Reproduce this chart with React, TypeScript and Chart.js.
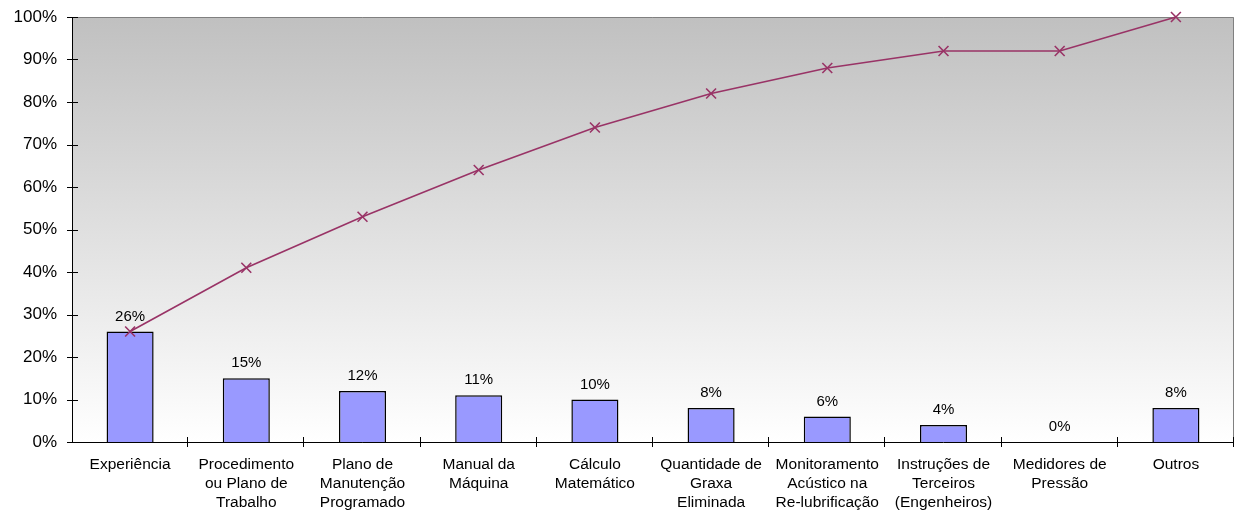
import React, { useEffect, useRef } from "react";
import { Chart, registerables } from "chart.js";

Chart.register(...registerables);

const categories: (string | string[])[] = [
  "Experiência",
  ["Procedimento", "ou Plano de", "Trabalho"],
  ["Plano de", "Manutenção", "Programado"],
  ["Manual da", "Máquina"],
  ["Cálculo", "Matemático"],
  ["Quantidade de", "Graxa", "Eliminada"],
  ["Monitoramento", "Acústico na", "Re-lubrificação"],
  ["Instruções de", "Terceiros", "(Engenheiros)"],
  ["Medidores de", "Pressão"],
  ["Outros"],
];
const shareValues = [26, 15, 12, 11, 10, 8, 6, 4, 0, 8];
const cumulativeValues = [26, 41, 53, 64, 74, 82, 88, 92, 92, 100];
const yTicks = [0, 10, 20, 30, 40, 50, 60, 70, 80, 90, 100];

const FONT = "'Liberation Sans', Arial, sans-serif";

const framePlugin = {
  id: "frame",
  beforeDatasetsDraw(chart: any) {
    const { ctx, chartArea } = chart;
    const { left, right, top, bottom } = chartArea;
    ctx.save();
    const g = ctx.createLinearGradient(0, top, 0, bottom);
    g.addColorStop(0, "#c0c0c0");
    g.addColorStop(1, "#ffffff");
    ctx.fillStyle = g;
    ctx.fillRect(left, top, right - left, bottom - top);
    ctx.strokeStyle = "#808080";
    ctx.lineWidth = 1;
    ctx.beginPath();
    ctx.moveTo(left, top + 0.5);
    ctx.lineTo(right - 0.5, top + 0.5);
    ctx.lineTo(right - 0.5, bottom);
    ctx.stroke();
    ctx.restore();
  },
  afterDatasetsDraw(chart: any) {
    const { ctx, chartArea, scales } = chart;
    const { left, right, top, bottom } = chartArea;
    ctx.save();
    ctx.strokeStyle = "#000000";
    ctx.lineWidth = 1;
    ctx.beginPath();
    ctx.moveTo(left + 0.5, top);
    ctx.lineTo(left + 0.5, bottom + 0.5);
    ctx.lineTo(right, bottom + 0.5);
    ctx.stroke();
    ctx.beginPath();
    yTicks.forEach((v) => {
      const y = Math.round(scales.y.getPixelForValue(v)) + 0.5;
      ctx.moveTo(left - 5, y);
      ctx.lineTo(left + 6, y);
    });
    const n = categories.length;
    const w = (right - left) / n;
    for (let i = 1; i <= n; i++) {
      const x = Math.round(left + i * w) - 0.5;
      ctx.moveTo(x, bottom - 5);
      ctx.lineTo(x, bottom + 5);
    }
    ctx.stroke();
    ctx.fillStyle = "#000000";
    ctx.font = "15px " + FONT;
    ctx.textAlign = "center";
    ctx.textBaseline = "middle";
    const meta = chart.getDatasetMeta(0);
    meta.data.forEach((bar: any, i: number) => {
      ctx.fillText(shareValues[i] + "%", bar.x, bar.y - 15);
    });
    ctx.restore();
  },
};

export default function App() {
  const ref = useRef<HTMLCanvasElement | null>(null);
  useEffect(() => {
    if (!ref.current) return;
    const chart = new Chart(ref.current, {
      type: "bar",
      data: {
        labels: categories as any,
        datasets: [
          {
            type: "bar",
            data: shareValues,
            backgroundColor: "#9999ff",
            borderColor: "#000000",
            borderWidth: 1.5,
            categoryPercentage: 1,
            barPercentage: 0.405,
            order: 2,
          },
          {
            type: "line",
            data: cumulativeValues,
            borderColor: "#993366",
            borderWidth: 1.6,
            pointStyle: "crossRot",
            pointRadius: 7,
            pointBorderWidth: 1.6,
            pointBorderColor: "#993366",
            fill: false,
            tension: 0,
            clip: false,
            order: 1,
          } as any,
        ],
      },
      options: {
        animation: false,
        responsive: false,
        maintainAspectRatio: false,
        layout: { autoPadding: false, padding: { top: 17, right: 2, left: 0, bottom: 0 } },
        plugins: { legend: { display: false }, tooltip: { enabled: false } },
        scales: {
          x: {
            offset: true,
            grid: { display: false, drawTicks: false },
            border: { display: false },
            ticks: {
              color: "#000000",
              font: { family: FONT, size: 15.5, lineHeight: 1.22 },
              padding: 13,
              maxRotation: 0,
              autoSkip: false,
            },
            afterFit: (s: any) => {
              s.height = 74;
              s.paddingLeft = 0;
              s.paddingRight = 0;
            },
          },
          y: {
            min: 0,
            max: 100,
            grid: { display: false, drawTicks: false },
            border: { display: false },
            ticks: {
              stepSize: 10,
              color: "#000000",
              font: { family: FONT, size: 17 },
              padding: 15,
              callback: (v: any) => v + "%",
            },
            afterFit: (s: any) => {
              s.width = 72;
              s.paddingTop = 0;
              s.paddingBottom = 0;
            },
          },
        },
      },
      plugins: [framePlugin],
    });
    return () => chart.destroy();
  }, []);
  return (
    <div style={{ position: "fixed", left: 0, top: 0, width: 1236, height: 516, background: "#fff" }}>
      <canvas ref={ref} width={1236} height={516} style={{ display: "block" }} />
    </div>
  );
}
